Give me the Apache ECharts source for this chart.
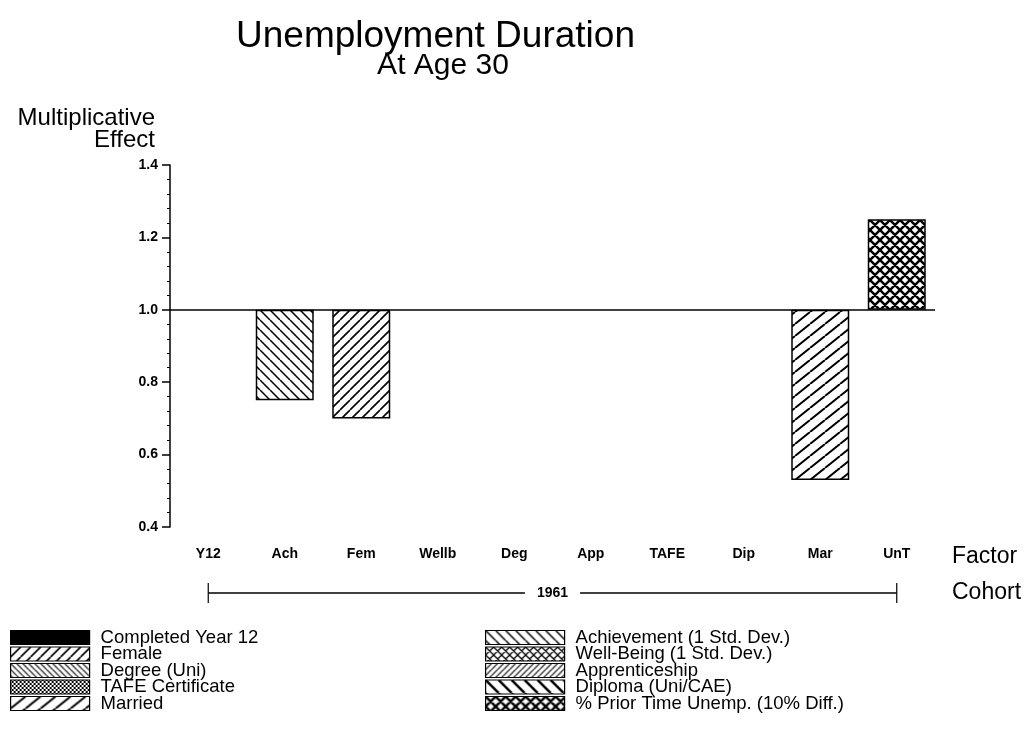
<!DOCTYPE html>
<html>
<head>
<meta charset="utf-8">
<script src="https://cdn.jsdelivr.net/npm/echarts@6/dist/echarts.min.js"></script>
<style>
  html, body { margin: 0; padding: 0; background: #fff; }
  #chart { width: 1028px; height: 737px; }
</style>
</head>
<body>
<div id="chart"></div>
<script>
// data
const factors = ['Y12', 'Ach', 'Fem', 'Wellb', 'Deg', 'App', 'TAFE', 'Dip', 'Mar', 'UnT'];
const factorNames = [
  'Completed Year 12', 'Achievement (1 Std. Dev.)', 'Female', 'Well-Being (1 Std. Dev.)',
  'Degree (Uni)', 'Apprenticeship', 'TAFE Certificate', 'Diploma (Uni/CAE)',
  'Married', '% Prior Time Unemp. (10% Diff.)'
];
const effects = [1.0, 0.75, 0.70, 1.0, 1.0, 1.0, 1.0, 1.0, 0.53, 1.25];
const baseline = 1.0;
const cohort = '1961';

const FONT = '"Liberation Sans", Arial, sans-serif';

// hatch tiles for the bar fills
function hatch(w, h, lw, kind) {
  const c = document.createElement('canvas');
  c.width = w; c.height = h;
  const g = c.getContext('2d');
  g.fillStyle = '#fff';
  g.fillRect(0, 0, w, h);
  g.strokeStyle = '#000';
  g.lineWidth = lw;
  g.beginPath();
  for (let k = -1; k <= 1; k++) {
    if (kind === '/' || kind === 'x') {
      g.moveTo(k * w, h); g.lineTo(k * w + w, 0);
    }
    if (kind === '\\' || kind === 'x') {
      g.moveTo(k * w, 0); g.lineTo(k * w + w, h);
    }
  }
  g.stroke();
  return { image: c, repeat: 'repeat' };
}

const fills = [
  '#000',                   // Y12
  hatch(10, 10, 1.5, '\\'), // Ach
  hatch(10, 10, 1.6, '/'),  // Fem
  hatch(8, 8, 1.3, 'x'),    // Wellb
  hatch(6, 6, 1.2, '\\'),   // Deg
  hatch(6, 6, 1.2, '/'),    // App
  hatch(4, 4, 1, 'x'),      // TAFE
  hatch(13, 13, 2.5, '\\'), // Dip
  hatch(15, 12, 2, '/'),    // Mar
  hatch(10, 10, 2.5, 'x')   // UnT
];

const chart = echarts.init(document.getElementById('chart'));

const series = [{
  name: 'base',
  type: 'bar',
  stack: 'fx',
  barWidth: 58,
  silent: true,
  emphasis: { disabled: true },
  itemStyle: { color: 'rgba(0,0,0,0)' },
  data: effects.map(v => Math.min(v, baseline)),
  markLine: {
    silent: true,
    symbol: 'none',
    label: { show: false },
    lineStyle: { color: '#000', width: 1.5, type: 'solid' },
    data: [{ yAxis: baseline }]
  }
}];
factors.forEach((f, i) => {
  series.push({
    name: factorNames[i],
    type: 'bar',
    stack: 'fx',
    barWidth: 58,
    emphasis: { disabled: true },
    itemStyle: { color: fills[i], borderColor: '#000', borderWidth: 1.5 },
    data: effects.map((v, j) => (j === i && v !== baseline) ? Math.abs(v - baseline) : '-')
  });
});

const legendBase = {
  orient: 'vertical',
  top: 628,
  padding: 0,
  icon: 'rect',
  itemWidth: 79,
  itemHeight: 14,
  itemGap: -2.5,
  selectedMode: false,
  itemStyle: { borderColor: '#000', borderWidth: 1.2 },
  textStyle: { fontFamily: FONT, fontSize: 18.5, color: '#000', padding: [0, 0, 0, 6] }
};

chart.setOption({
  animation: false,
  title: [{
    text: 'Unemployment Duration',
    left: 231,
    top: 13,
    textStyle: { fontFamily: FONT, fontSize: 37, fontWeight: 'normal', color: '#000' }
  }, {
    text: 'At Age 30',
    left: 438,
    textAlign: 'center',
    top: 46,
    textStyle: { fontFamily: FONT, fontSize: 30, fontWeight: 'normal', color: '#000' }
  }],
  legend: [
    Object.assign({ left: 10, data: factorNames.filter((n, i) => i % 2 === 0) }, legendBase),
    Object.assign({ left: 485, data: factorNames.filter((n, i) => i % 2 === 1) }, legendBase)
  ],
  grid: { left: 170, right: 93, top: 165, bottom: 210 },
  xAxis: {
    type: 'category',
    data: factors,
    axisLine: { show: false },
    axisTick: { show: false },
    axisLabel: { fontFamily: FONT, fontSize: 14, fontWeight: 'bold', color: '#000', margin: 20 },
    name: 'Factor',
    nameLocation: 'end',
    nameGap: 17,
    nameTextStyle: { fontFamily: FONT, fontSize: 23, color: '#000', verticalAlign: 'top', padding: [18, 0, 0, 0] }
  },
  yAxis: {
    type: 'value',
    min: 0.4,
    max: 1.4,
    interval: 0.2,
    splitLine: { show: false },
    axisLine: { show: true, lineStyle: { color: '#000', width: 1.5 } },
    axisTick: { show: true, length: 8, lineStyle: { color: '#000', width: 1.5 } },
    minorTick: { show: true, splitNumber: 5, length: 3, lineStyle: { color: '#000', width: 1 } },
    axisLabel: {
      fontFamily: FONT, fontSize: 14, fontWeight: 'bold', color: '#000', margin: 12,
      formatter: v => v.toFixed(1)
    },
    name: 'Multiplicative\nEffect',
    nameGap: 14,
    nameTextStyle: {
      fontFamily: FONT, fontSize: 24, color: '#000', align: 'right',
      lineHeight: 22, padding: [0, 15, 0, 0]
    }
  },
  series: series
});

// cohort bracket under the factor labels, placed from the category scale
const xa = chart.convertToPixel({ xAxisIndex: 0 }, factors[0]);
const xb = chart.convertToPixel({ xAxisIndex: 0 }, factors[factors.length - 1]);
const yc = 593;
chart.setOption({
  graphic: [
    { type: 'line', shape: { x1: xa, y1: yc, x2: xb, y2: yc }, style: { stroke: '#000', lineWidth: 1.5 } },
    { type: 'line', shape: { x1: xa, y1: yc - 10, x2: xa, y2: yc + 10 }, style: { stroke: '#000', lineWidth: 1.2 } },
    { type: 'line', shape: { x1: xb, y1: yc - 10, x2: xb, y2: yc + 10 }, style: { stroke: '#000', lineWidth: 1.2 } },
    {
      type: 'text', x: (xa + xb) / 2, y: yc, z: 10,
      style: {
        text: cohort, fill: '#000', font: 'bold 14px ' + FONT, align: 'center', verticalAlign: 'middle',
        backgroundColor: '#fff', padding: [2, 12]
      }
    },
    {
      type: 'text', x: 952, y: yc,
      style: { text: 'Cohort', fill: '#000', font: '23px ' + FONT, align: 'left', verticalAlign: 'middle' }
    }
  ]
});
</script>
</body>
</html>
